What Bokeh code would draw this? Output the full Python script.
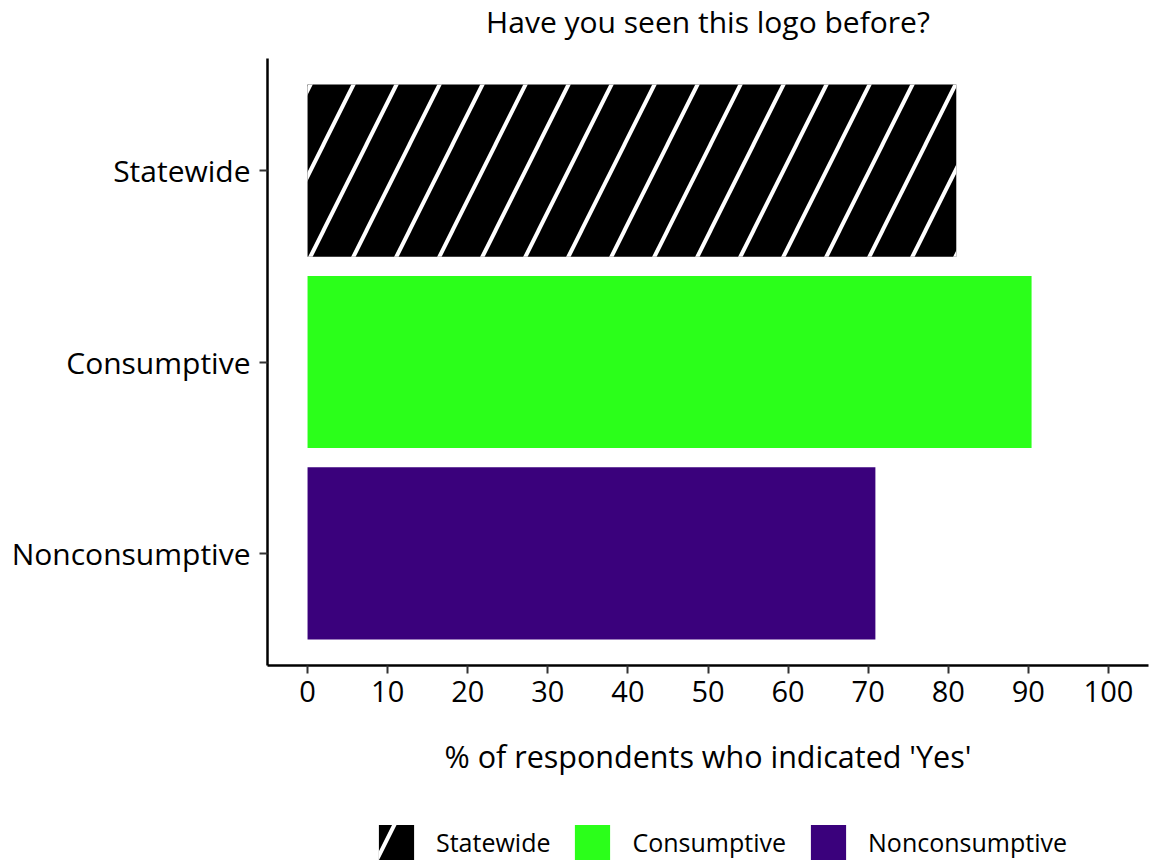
from bokeh.plotting import figure
from bokeh.layouts import column
from bokeh.models import (FactorRange, Range1d, Legend, LegendItem, FixedTicker,
                          ColumnDataSource)
from bokeh.embed import file_html
from bokeh.resources import INLINE

# ---- data ----
groups = ["Statewide", "Consumptive", "Nonconsumptive"]
pct_yes = [81.0, 90.4, 70.9]
x_ticks = [0, 10, 20, 30, 40, 50, 60, 70, 80, 90, 100]
title_text = "Have you seen this logo before?"
x_label = "% of respondents who indicated 'Yes'"

# ---- styles ----
fills = ["#000000", "#2BFF1A", "#3A017C"]
hatches = ["right_diagonal_line", None, None]
FONT = "Open Sans"
W = 1156


def bar_style(fc, hp):
    kw = dict(fill_color=fc, line_color=None)
    if hp:
        kw.update(hatch_pattern=hp, hatch_color="white", hatch_alpha=1.0,
                  hatch_scale=86, hatch_weight=4)
    return kw


# ---- header with title ----
header = figure(width=W, height=58, x_axis_location=None, y_axis_location=None,
                x_range=Range1d(0, 1), y_range=Range1d(0, 1),
                output_backend="svg", toolbar_location=None,
                min_border_left=267, min_border_right=8, min_border_top=0, min_border_bottom=0)
header.outline_line_color = None
header.xgrid.visible = False
header.ygrid.visible = False
header.title.text = title_text
header.title.align = "center"
header.title.vertical_align = "top"
header.title.standoff = 0
header.title.text_font = FONT
header.title.text_font_size = "30px"
header.title.text_font_style = "normal"
header.title.text_color = "black"

# ---- main chart ----
p = figure(
    width=W, height=742,
    y_range=FactorRange(factors=groups[::-1], range_padding=0.086, range_padding_units="absolute"),
    x_range=Range1d(-5, 105),
    output_backend="svg", toolbar_location=None,
    min_border_left=267, min_border_right=8, min_border_top=0, min_border_bottom=135,
)
for g, v, fc, hp in zip(groups, pct_yes, fills, hatches):
    src = ColumnDataSource(dict(y=[g], right=[v]))
    p.hbar(y="y", left=0, right="right", height=0.9, source=src, **bar_style(fc, hp))

p.xgrid.visible = False
p.ygrid.visible = False
p.outline_line_color = None

for ax in (p.xaxis[0], p.yaxis[0]):
    ax.axis_line_width = 2.5
    ax.axis_line_color = "black"
    ax.major_tick_line_width = 2
    ax.major_tick_line_color = "#333333"
    ax.major_tick_out = 8
    ax.major_tick_in = 0
    ax.minor_tick_line_color = None
    ax.major_label_text_font = FONT
    ax.major_label_text_color = "black"

p.xaxis.ticker = FixedTicker(ticks=x_ticks)
p.xaxis.major_label_text_font_size = "29px"
p.xaxis.major_label_standoff = 7
p.xaxis.axis_label = x_label
p.xaxis.axis_label_text_font = FONT
p.xaxis.axis_label_text_font_size = "30.5px"
p.xaxis.axis_label_text_font_style = "normal"
p.xaxis.axis_label_text_color = "black"
p.xaxis.axis_label_standoff = 30

p.yaxis.major_label_text_font_size = "30px"
p.yaxis.major_label_standoff = 9

# ---- legend strip ----
leg = figure(width=W, height=64, x_axis_location=None, y_axis_location=None,
             x_range=Range1d(0, 1), y_range=FactorRange(factors=groups[::-1]),
             output_backend="svg", toolbar_location=None, min_border=0)
leg.outline_line_color = None
leg.xgrid.visible = False
leg.ygrid.visible = False
items = []
for g, v, fc, hp in zip(groups, pct_yes, fills, hatches):
    src = ColumnDataSource(dict(y=[g], right=[v]))
    r = leg.hbar(y="y", left=0, right="right", height=0.9, source=src, **bar_style(fc, hp))
    r.visible = False
    items.append(LegendItem(label=g, renderers=[r]))

legend = Legend(items=items, orientation="horizontal", location=(107, 0),
                glyph_width=44, glyph_height=44, label_standoff=18, spacing=20,
                label_text_font_size="25px", label_text_font=FONT,
                label_text_color="black",
                border_line_color=None, background_fill_alpha=0,
                padding=0, margin=0)
leg.add_layout(legend, "center")

open("out.html", "w").write(file_html(column(header, p, leg, spacing=0), INLINE))
